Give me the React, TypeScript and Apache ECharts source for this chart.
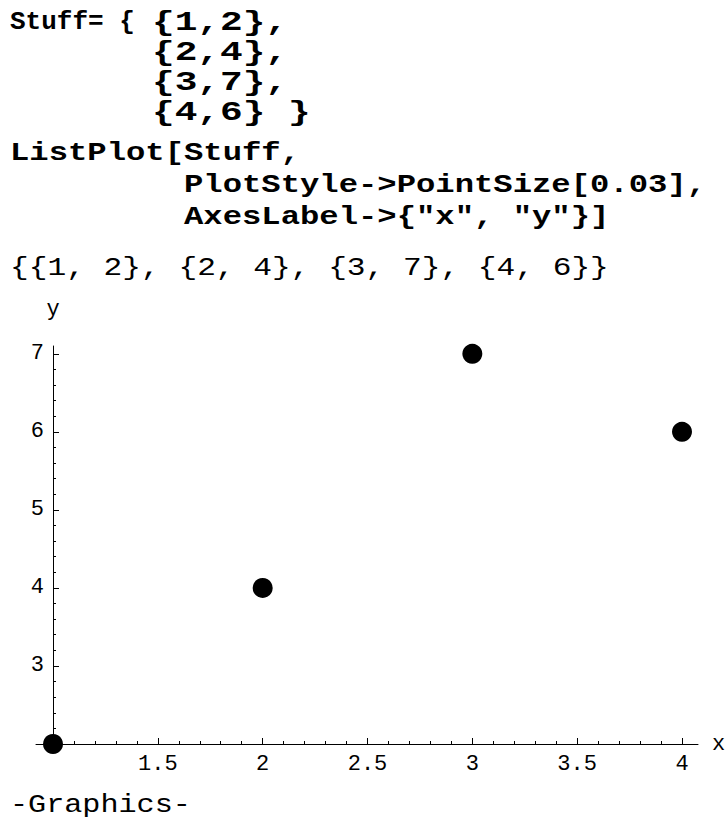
import React, { useEffect, useRef } from "react";
import * as echarts from "echarts";

// ---- data ----
const xValues = [1, 2, 3, 4];
const yValues = [2, 4, 7, 6];
const xMajorTicks = [1, 1.5, 2, 2.5, 3, 3.5, 4];
const xTickLabels = [1.5, 2, 2.5, 3, 3.5, 4];
const yMajorTicks = [2, 3, 4, 5, 6, 7];
const yTickLabels = [3, 4, 5, 6, 7];
const xAxisName = "x";
const yAxisName = "y";

// axis ranges
const X_MIN = 0.9189;
const X_MAX = 4.0763;
const Y_MIN = 2;
const Y_MAX = 7.1;

function minorBetween(major: number[], parts: number, max: number): number[] {
  const out: number[] = [];
  for (let i = 0; i < major.length; i++) {
    const a = major[i];
    const b = i + 1 < major.length ? major[i + 1] : a + (major[1] - major[0]);
    for (let k = 1; k < parts; k++) {
      const v = +(a + ((b - a) * k) / parts).toFixed(4);
      if (v < max) out.push(v);
    }
  }
  return out;
}

export default function App() {
  const ref = useRef<HTMLDivElement>(null);
  useEffect(() => {
    if (!ref.current) return;
    const chart = echarts.init(ref.current, null, { renderer: "svg" });

    const W = 728;
    const gridLeft = 36;
    const gridRight = 30;
    const gridTop = 346;
    const gridBottom = 77;
    const plotW = W - gridLeft - gridRight;
    const yOffset = -((xValues[0] - X_MIN) / (X_MAX - X_MIN)) * plotW;

    const xMinor = minorBetween(xMajorTicks, 5, X_MAX).filter((v) => v > X_MIN);
    const yMinor = minorBetween(yMajorTicks, 5, Y_MAX);

    const pairs = xValues.map((x, i) => [x, yValues[i]]);
    const outputLine = "{" + pairs.map((p) => "{" + p[0] + ", " + p[1] + "}").join(", ") + "}";

    const mono = "'Liberation Mono', monospace";
    const boldFont = `bold 26px ${mono}`;
    const regFont = `26px ${mono}`;
    const pairFont = `bold 28px ${mono}`;
    const SX = 1.24;
    const indentX = 184;
    const stuffIndent = 152;

    const codeText = (text: string, x: number, y: number, font = boldFont, sx = SX) => ({
      type: "text",
      x,
      y,
      scaleX: sx,
      silent: true,
      style: {
        text,
        x: 0,
        y: 0,
        font,
        fill: "#000",
        textVerticalAlign: "middle",
        verticalAlign: "middle",
        textAlign: "left",
        align: "left",
      },
    });

    const graphics: any[] = [
      codeText("Stuff= {", 10, 22, boldFont, 1.0),
      codeText("{" + pairs[0].join(",") + "},", stuffIndent, 22, pairFont, 1.35),
      codeText("{" + pairs[1].join(",") + "},", stuffIndent, 52, pairFont, 1.35),
      codeText("{" + pairs[2].join(",") + "},", stuffIndent, 82, pairFont, 1.35),
      codeText("{" + pairs[3].join(",") + "} }", stuffIndent, 112, pairFont, 1.35),
      codeText("ListPlot[Stuff,", 10, 153),
      codeText("PlotStyle->PointSize[0.03],", indentX, 185),
      codeText('AxesLabel->{"' + xAxisName + '", "' + yAxisName + '"}]', indentX, 217),
      codeText(outputLine, 10, 268, regFont, 1.2),
      codeText("-Graphics-", 10, 805, regFont, 1.16),
    ];

    const labelFont = {
      fontFamily: mono,
      fontSize: 22,
      color: "#000",
    };

    chart.setOption({
      animation: false,
      backgroundColor: "#fff",
      grid: { left: gridLeft, right: gridRight, top: gridTop, bottom: gridBottom, containLabel: false },
      xAxis: [
        {
          type: "value",
          min: X_MIN,
          max: X_MAX,
          position: "bottom",
          name: xAxisName,
          nameLocation: "end",
          nameGap: 14,
          nameTextStyle: labelFont,
          axisLine: { show: true, onZero: false, lineStyle: { color: "#000", width: 1 } },
          axisTick: { show: true, inside: true, length: 6, customValues: xMajorTicks, lineStyle: { color: "#000" } },
          axisLabel: {
            show: true,
            customValues: xTickLabels,
            margin: 9,
            ...labelFont,
            formatter: (v: number) => String(v),
          },
          splitLine: { show: false },
        },
        {
          type: "value",
          min: X_MIN,
          max: X_MAX,
          position: "bottom",
          axisLine: { show: false, onZero: false },
          axisTick: { show: true, inside: true, length: 3, customValues: xMinor, lineStyle: { color: "#000" } },
          axisLabel: { show: false },
          splitLine: { show: false },
        },
      ],
      yAxis: [
        {
          type: "value",
          min: Y_MIN,
          max: Y_MAX,
          position: "left",
          offset: yOffset,
          name: yAxisName,
          nameLocation: "end",
          nameGap: 26,
          nameTextStyle: { ...labelFont, align: "center" },
          axisLine: { show: true, onZero: false, lineStyle: { color: "#000", width: 1 } },
          axisTick: { show: true, inside: true, length: 6, customValues: yMajorTicks, lineStyle: { color: "#000" } },
          axisLabel: {
            show: true,
            customValues: yTickLabels,
            margin: 9,
            ...labelFont,
            formatter: (v: number) => String(v),
          },
          splitLine: { show: false },
        },
        {
          type: "value",
          min: Y_MIN,
          max: Y_MAX,
          position: "left",
          offset: yOffset,
          axisLine: { show: false, onZero: false },
          axisTick: { show: true, inside: true, length: 3, customValues: yMinor, lineStyle: { color: "#000" } },
          axisLabel: { show: false },
          splitLine: { show: false },
        },
      ],
      series: [
        {
          type: "scatter",
          xAxisIndex: 0,
          yAxisIndex: 0,
          data: pairs,
          symbol: "circle",
          symbolSize: 20,
          itemStyle: { color: "#000", opacity: 1 },
          clip: false,
          z: 10,
        },
      ],
      graphic: graphics,
    });

    return () => chart.dispose();
  }, []);

  return (
    <div
      ref={ref}
      style={{ position: "absolute", left: 0, top: 0, width: 728, height: 821, background: "#fff" }}
    />
  );
}
